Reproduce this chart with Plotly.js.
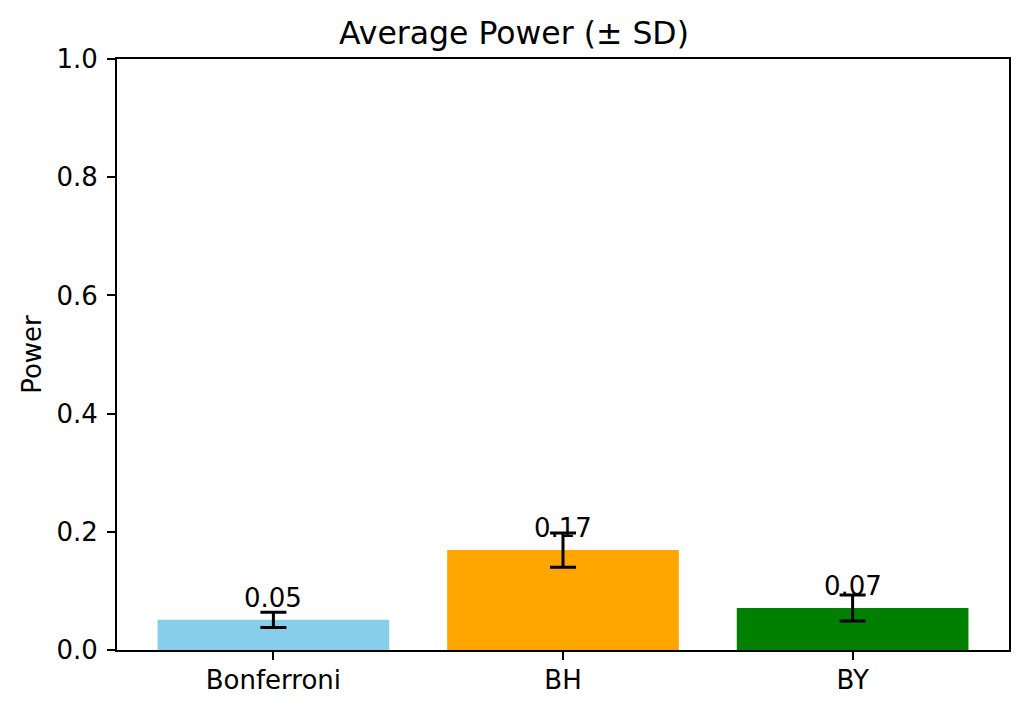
<!DOCTYPE html>
<html>
<head>
<meta charset="utf-8">
<script src="https://cdn.plot.ly/plotly-3.0.1.min.js"></script>
<style>html,body{margin:0;padding:0;background:#fff;}#chart{width:1028px;height:714px;}</style>
</head>
<body>
<div id="chart"></div>
<script>
const methods = ["Bonferroni", "BH", "BY"];
const meanPower = [0.051, 0.169, 0.071];
const sdPower = [0.013, 0.029, 0.022];
const barColors = ["#87CEEB", "#FFA500", "#008000"];
const valueLabels = ["0.05", "0.17", "0.07"];
const yTicks = [0, 0.2, 0.4, 0.6, 0.8, 1.0];

const font = "DejaVu Sans, sans-serif";
const tickSize = 26;

const trace = {
  type: "bar",
  x: methods,
  y: meanPower,
  width: 0.8,
  marker: {color: barColors, line: {width: 0}},
  error_y: {type: "data", array: sdPower, visible: true, color: "#000", thickness: 3, width: 13},
  hoverinfo: "none"
};

const annotations = methods.map((m, i) => ({
  x: m, y: meanPower[i], xref: "x", yref: "y",
  text: valueLabels[i], showarrow: false, yanchor: "middle", yshift: 22,
  font: {family: font, size: tickSize, color: "#000"}
}));

const layout = {
  width: 1028, height: 714,
  margin: {l: 117, r: 19, t: 59, b: 64},
  paper_bgcolor: "#fff", plot_bgcolor: "#fff",
  showlegend: false,
  title: {text: "Average Power (± SD)", font: {family: font, size: 31.5, color: "#000"}, x: 0.5, xanchor: "center", y: 0.954, yanchor: "middle"},
  xaxis: {
    range: [-0.54, 2.54], type: "category",
    showline: true, linecolor: "#000", linewidth: 1.9, mirror: true,
    ticks: "outside", ticklen: 8, tickwidth: 1.9, tickcolor: "#000",
    ticklabelstandoff: -2,
    showgrid: false, zeroline: false,
    tickfont: {family: font, size: tickSize, color: "#000"}
  },
  yaxis: {
    range: [0, 1], tickvals: yTicks, tickformat: ".1f",
    showline: true, linecolor: "#000", linewidth: 1.9, mirror: true,
    ticks: "outside", ticklen: 8, tickwidth: 1.9, tickcolor: "#000",
    ticklabelstandoff: 4,
    showgrid: false, zeroline: false,
    tickfont: {family: font, size: tickSize, color: "#000"},
    title: {text: "Power", font: {family: font, size: tickSize, color: "#000"}, standoff: 7}
  },
  annotations: annotations
};

Plotly.newPlot("chart", [trace], layout, {displayModeBar: false, staticPlot: true});
</script>
</body>
</html>
